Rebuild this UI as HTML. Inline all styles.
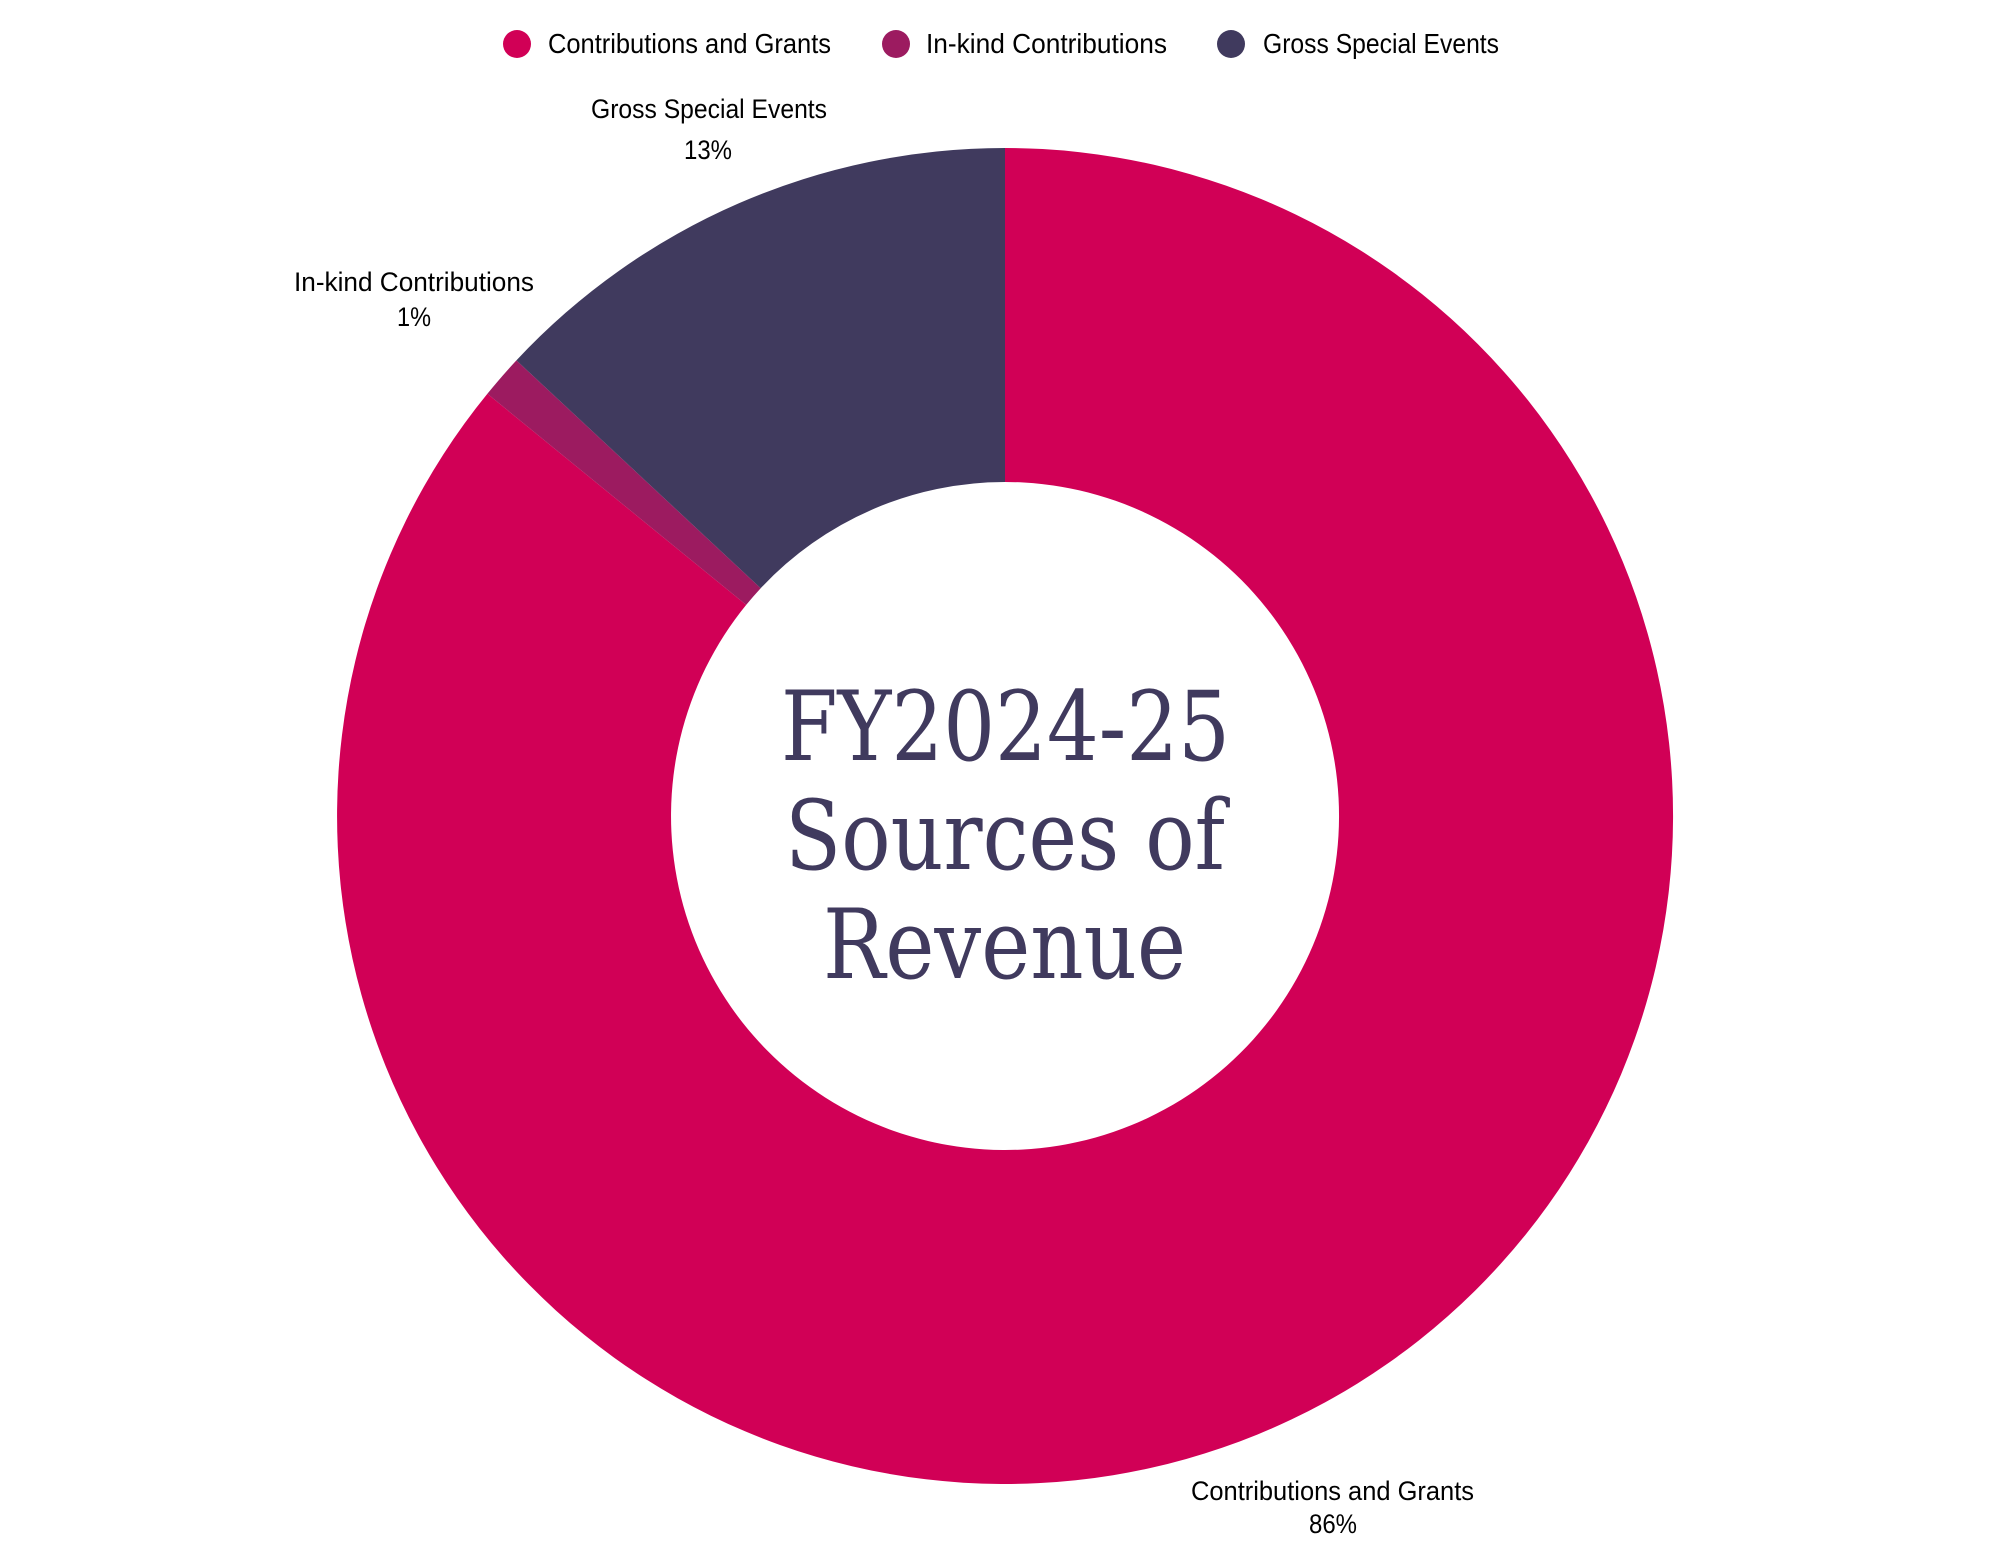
<!DOCTYPE html>
<html><head><meta charset="utf-8"><style>
html,body{margin:0;padding:0;background:#fff;width:2000px;height:1545px;overflow:hidden}
.s{font-family:"Liberation Sans",sans-serif;}
.c{font-family:"DejaVu Serif","Liberation Serif",serif;}
</style></head><body>
<svg width="2000" height="1545" viewBox="0 0 2000 1545" xmlns="http://www.w3.org/2000/svg">
<path d="M1005 148 A668 668 0 1 1 487.4 393.8 L746.2 604.9 A334 334 0 1 0 1005 482 Z" fill="#d10056"/>
<path d="M487.4 393.8 A668 668 0 0 1 516.4 360.4 L760.7 588.2 A334 334 0 0 0 746.2 604.9 Z" fill="#9c1b60"/>
<path d="M516.4 360.4 A668 668 0 0 1 1005 148 L1005 482 A334 334 0 0 0 760.7 588.2 Z" fill="#403a5e"/>
<g font-size="28" fill="#000">
<circle cx="517" cy="44" r="14" fill="#d10056"/><text class="s" x="548" y="53" textLength="283" lengthAdjust="spacingAndGlyphs">Contributions and Grants</text>
<circle cx="896" cy="44" r="14" fill="#9c1b60"/><text class="s" x="926" y="53" textLength="241" lengthAdjust="spacingAndGlyphs">In-kind Contributions</text>
<circle cx="1231" cy="44" r="14" fill="#403a5e"/><text class="s" x="1263" y="53" textLength="236" lengthAdjust="spacingAndGlyphs">Gross Special Events</text>
</g>
<g font-size="27" fill="#000">
<text class="s" x="591" y="118" textLength="236" lengthAdjust="spacingAndGlyphs">Gross Special Events</text>
<text class="s" x="708" y="159" text-anchor="middle" textLength="48" lengthAdjust="spacingAndGlyphs">13%</text>
<text class="s" x="294" y="291" textLength="240" lengthAdjust="spacingAndGlyphs">In-kind Contributions</text>
<text class="s" x="414" y="326" text-anchor="middle" textLength="34" lengthAdjust="spacingAndGlyphs">1%</text>
<text class="s" x="1191" y="1500" textLength="283" lengthAdjust="spacingAndGlyphs">Contributions and Grants</text>
<text class="s" x="1333" y="1533" text-anchor="middle" textLength="48" lengthAdjust="spacingAndGlyphs">86%</text>
</g>
<g font-size="96" fill="#403a5e">
<text class="c" x="781" y="760" textLength="449" lengthAdjust="spacingAndGlyphs">FY2024-25</text>
<text class="c" x="785" y="869" textLength="440" lengthAdjust="spacingAndGlyphs">Sources of</text>
<text class="c" x="823" y="978" textLength="363" lengthAdjust="spacingAndGlyphs">Revenue</text>
</g>
</svg>
</body></html>
